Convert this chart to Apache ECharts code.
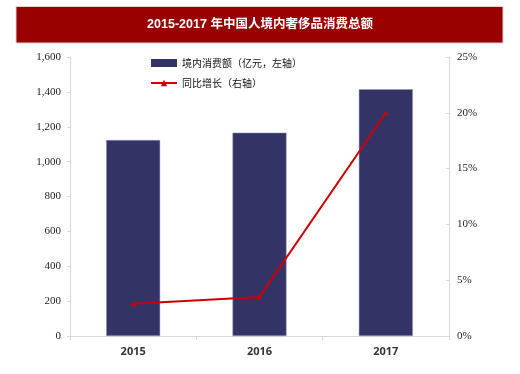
<!DOCTYPE html>
<html><head><meta charset="utf-8">
<script src="https://cdn.jsdelivr.net/npm/echarts@6/dist/echarts.min.js"></script>
<style>html,body{margin:0;padding:0;background:#fff}#c{width:520px;height:374px}</style>
</head><body><div id="c"></div>
<script>
const categories = ['2015', '2016', '2017'];
const consumption = [1124, 1166, 1415];
const growth = [2.9, 3.5, 20.0];
const leftTicks = [0, 1600, 200];
const rightTicks = [0, 25, 5];

const chart = echarts.init(document.getElementById('c'));
chart.setOption({
  animation: false,
  graphic: [
    {type: 'rect', shape: {x: 16, y: 6.5, width: 487, height: 36.5}, style: {fill: '#990000', stroke: '#e8d0d0', lineWidth: 1}},
    {type: 'text', x: 260, y: 25, style: {text: '2015-2017 年中国人境内奢侈品消费总额', fill: '#fff', font: 'bold 12.5px "Liberation Sans", "Noto Sans CJK SC"', textAlign: 'center', textVerticalAlign: 'middle'}}
  ],
  legend: {
    orient: 'vertical', left: 145, top: 53, itemGap: 10, itemWidth: 26, itemHeight: 8,
    textStyle: {fontSize: 10, color: '#111', fontFamily: '"Noto Sans CJK SC"'},
    data: [
      {name: '境内消费额（亿元，左轴）', icon: 'rect', itemStyle: {borderWidth: 0}},
      {name: '同比增长（右轴）'}
    ]
  },
  grid: {left: 70, right: 71, top: 57, bottom: 38},
  xAxis: {
    type: 'category', data: categories,
    axisLine: {lineStyle: {color: '#d9d9d9'}},
    axisTick: {show: true, alignWithLabel: false, length: 4, lineStyle: {color: '#d9d9d9'}},
    axisLabel: {color: '#333', fontSize: 11, fontWeight: 'bold', fontFamily: '"Open Sans", sans-serif', margin: 10}
  },
  yAxis: [
    {
      type: 'value', min: leftTicks[0], max: leftTicks[1], interval: leftTicks[2],
      axisLine: {show: true, lineStyle: {color: '#d9d9d9'}},
      axisTick: {show: true, length: 3, lineStyle: {color: '#d9d9d9'}},
      splitLine: {show: false},
      axisLabel: {color: '#222', fontSize: 11, fontFamily: '"Liberation Serif", serif', margin: 9,
        formatter: v => v.toLocaleString('en-US')}
    },
    {
      type: 'value', min: rightTicks[0], max: rightTicks[1], interval: rightTicks[2],
      axisLine: {show: true, lineStyle: {color: '#d9d9d9'}},
      axisTick: {show: true, inside: true, length: 3, lineStyle: {color: '#d9d9d9'}},
      splitLine: {show: false},
      axisLabel: {color: '#222', fontSize: 11, fontFamily: '"Liberation Serif", serif', margin: 8,
        formatter: v => v + '%'}
    }
  ],
  series: [
    {name: '境内消费额（亿元，左轴）', type: 'bar', data: consumption, barWidth: 54, yAxisIndex: 0,
      itemStyle: {color: '#333366', borderColor: '#9999bb', borderWidth: 0.5}},
    {name: '同比增长（右轴）', type: 'line', data: growth, yAxisIndex: 1,
      symbol: 'triangle', symbolSize: 5, showSymbol: true,
      lineStyle: {color: '#cc0000', width: 2}, itemStyle: {color: '#cc0000'}}
  ]
});
</script></body></html>
